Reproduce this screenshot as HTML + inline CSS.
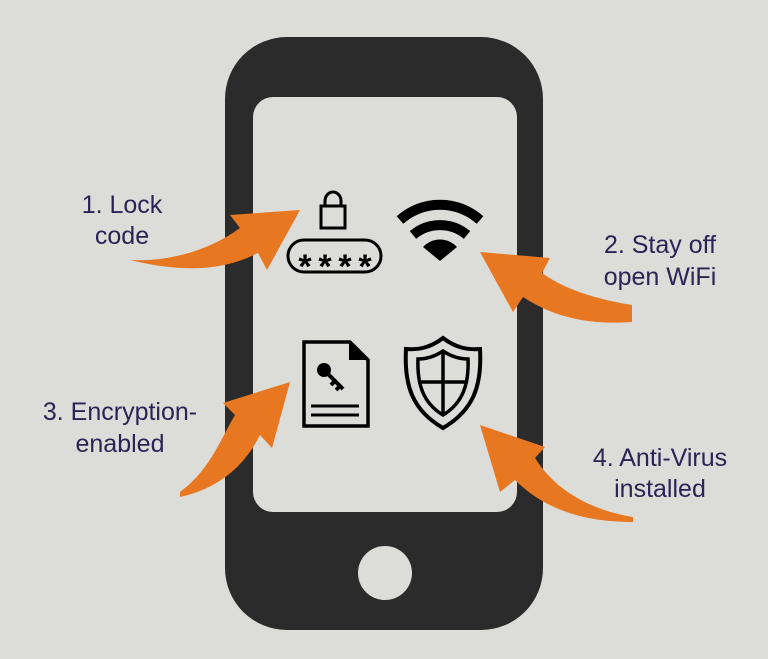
<!DOCTYPE html>
<html><head><meta charset="utf-8"><style>
html,body{margin:0;padding:0;background:#dcdcd8;}
svg{display:block}
text{font-family:"Liberation Sans",sans-serif;font-size:25px;fill:#2b2356;}
</style></head><body>
<svg width="768" height="659" viewBox="0 0 768 659">
<rect width="768" height="659" fill="#dcdcd8"/>
<rect x="225" y="37" width="318" height="593" rx="62" fill="#2b2b2b"/>
<rect x="253" y="97" width="264" height="415" rx="20" fill="#dcdcd8"/>
<circle cx="385" cy="573" r="27" fill="#dcdcd8"/>
<!-- lock -->
<path d="M325 207 v-6 a8 9 0 0 1 16 0 v6" fill="none" stroke="#000" stroke-width="3"/>
<rect x="321" y="206" width="24" height="22" fill="none" stroke="#000" stroke-width="3"/>
<rect x="288" y="240" width="93" height="32" rx="16" fill="none" stroke="#000" stroke-width="3"/>
<g style="font-size:34px;fill:#000;font-weight:bold" text-anchor="middle">
<text x="305" y="278" style="font-size:34px;fill:#000">*</text>
<text x="325" y="278" style="font-size:34px;fill:#000">*</text>
<text x="345" y="278" style="font-size:34px;fill:#000">*</text>
<text x="365" y="278" style="font-size:34px;fill:#000">*</text>
</g>
<!-- wifi -->
<g fill="none" stroke="#000" stroke-width="10">
<path d="M400 220 A60 60 0 0 1 480 220"/>
<path d="M413 235 A42 42 0 0 1 467 235"/>
</g>
<path d="M440 261 L423 247 A23 23 0 0 1 457 247 Z" fill="#000"/>
<!-- document -->
<path d="M304 342 h46 l18 18 v66 h-64 z" fill="none" stroke="#000" stroke-width="3.5"/>
<path d="M349 342 l19 18 h-19 z" fill="#000"/>
<circle cx="324" cy="370" r="7" fill="#000"/>
<path d="M326 372 l17 17 M335 381 l-4 4 M340 386 l-4 4" stroke="#000" stroke-width="4"/>
<path d="M311 406 h48 M311 415 h48" stroke="#000" stroke-width="3"/>
<!-- shield -->
<path d="M443 338 C430 348 418 350 406 349 C404 385 412 410 443 428 C474 410 482 385 480 349 C468 350 456 348 443 338 Z" fill="none" stroke="#000" stroke-width="4"/>
<path d="M443 351 C434 357 426 359 418 359 C417 384 423 403 443 415 C463 403 469 384 468 359 C460 359 452 357 443 351 Z" fill="none" stroke="#000" stroke-width="3.5"/>
<path d="M443 352 V414 M418 382 H468" stroke="#000" stroke-width="3.5"/>
<!-- arrows -->
<g fill="#e87722">
<path d="M130 260 C170 262 210 250 240 228 L230 215 L300 210 L267 270 L258 253 C220 272 180 272 130 260 Z"/>
<path d="M632 305 C600 300 565 290 542 273 L550 258 L480 252 L513 312 L523 297 C555 318 590 325 632 322 Z"/>
<path d="M180 492 C210 470 220 440 235 415 L223 403 L290 382 L272 448 L260 435 C245 465 220 488 180 497 Z"/>
<path d="M633 517 C590 510 555 490 535 458 L545 447 L480 425 L500 492 L515 480 C545 510 585 522 633 522 Z"/>
</g>
<text x="122" y="213" text-anchor="middle">1. Lock</text>
<text x="122" y="244" text-anchor="middle">code</text>
<text x="660" y="253" text-anchor="middle">2. Stay off</text>
<text x="660" y="285" text-anchor="middle">open WiFi</text>
<text x="120" y="420" text-anchor="middle">3. Encryption-</text>
<text x="120" y="452" text-anchor="middle">enabled</text>
<text x="660" y="466" text-anchor="middle">4. Anti-Virus</text>
<text x="660" y="497" text-anchor="middle">installed</text>
</svg>
</body></html>
